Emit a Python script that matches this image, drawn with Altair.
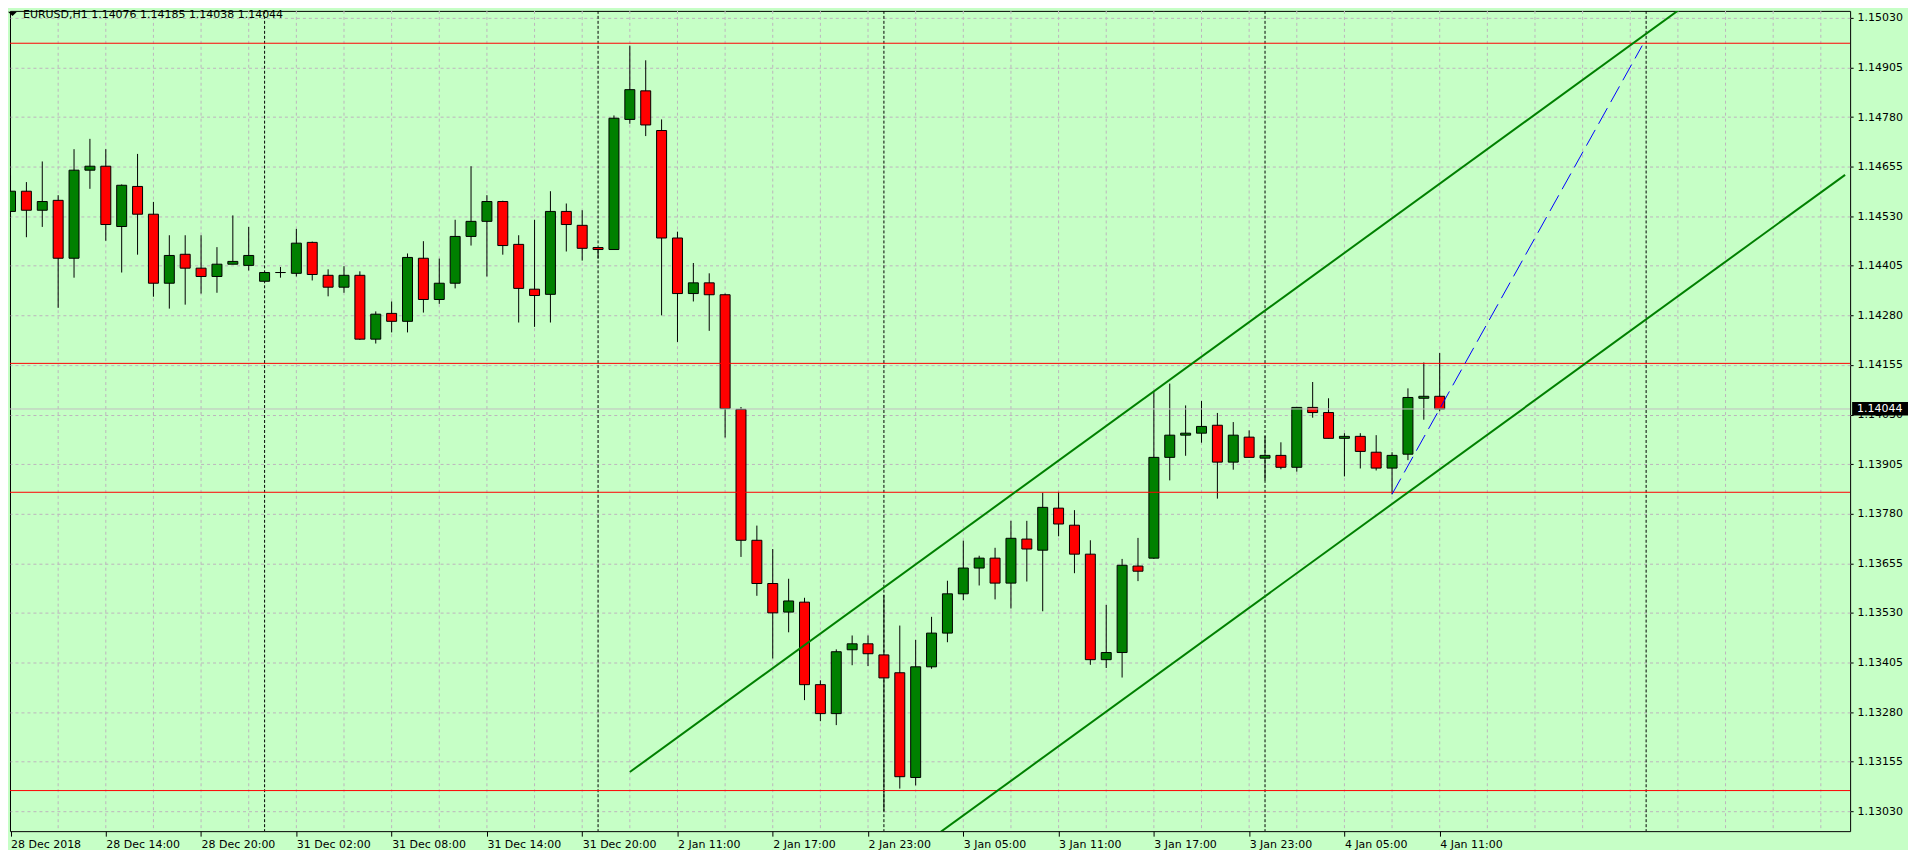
import json
import altair as alt
import pandas as pd

# ---- candle data (EURUSD H1), bar index 0 = 28 Dec 2018 08:00 ----
OPEN = [1.14542, 1.14593, 1.14545, 1.14570, 1.14424, 1.14646, 1.14656, 1.14504, 1.14605, 1.14535,
        1.14361, 1.14434, 1.14399, 1.14378, 1.14409, 1.14406, 1.14366, 1.14388, 1.14386, 1.14464,
        1.14381, 1.14351, 1.14381, 1.14220, 1.14285, 1.14265, 1.14424, 1.14320, 1.14361, 1.14479,
        1.14517, 1.14567, 1.14459, 1.14346, 1.14333, 1.14542, 1.14507, 1.14451, 1.14446, 1.14774,
        1.14846, 1.14746, 1.14475, 1.14335, 1.14362, 1.14332, 1.14043, 1.13713, 1.13604, 1.13532,
        1.13557, 1.13349, 1.13276, 1.13437, 1.13452, 1.13424, 1.13379, 1.13115, 1.13394, 1.13479,
        1.13578, 1.13643, 1.13668, 1.13605, 1.13716, 1.13688, 1.13794, 1.13751, 1.13678, 1.13412,
        1.13430, 1.13648, 1.13668, 1.13922, 1.13978, 1.13983, 1.14003, 1.13910, 1.13973, 1.13920,
        1.13927, 1.13897, 1.14048, 1.14035, 1.13970, 1.13975, 1.13935, 1.13895, 1.13930, 1.14071,
        1.14076]
HIGH = [1.14633, 1.14616, 1.14668, 1.14583, 1.14699, 1.14725, 1.14699, 1.14610, 1.14687, 1.14566,
        1.14482, 1.14482, 1.14482, 1.14452, 1.14532, 1.14503, 1.14390, 1.14402, 1.14498, 1.14466,
        1.14396, 1.14404, 1.14391, 1.14290, 1.14315, 1.14436, 1.14467, 1.14423, 1.14521, 1.14656,
        1.14583, 1.14569, 1.14482, 1.14521, 1.14593, 1.14562, 1.14545, 1.14452, 1.14784, 1.14960,
        1.14923, 1.14774, 1.14491, 1.14412, 1.14386, 1.14335, 1.14049, 1.13750, 1.13691, 1.13616,
        1.13568, 1.13360, 1.13438, 1.13473, 1.13473, 1.13575, 1.13498, 1.13462, 1.13520, 1.13611,
        1.13712, 1.13674, 1.13694, 1.13762, 1.13762, 1.13833, 1.13835, 1.13789, 1.13713, 1.13550,
        1.13666, 1.13719, 1.14088, 1.14108, 1.14053, 1.14064, 1.14034, 1.14011, 1.13990, 1.13976,
        1.13960, 1.14048, 1.14112, 1.14071, 1.13983, 1.13983, 1.13978, 1.13935, 1.14096, 1.14161,
        1.14185]
LOW = [1.14528, 1.14477, 1.14503, 1.14299, 1.14375, 1.14599, 1.14468, 1.14388, 1.14433, 1.14327,
       1.14297, 1.14307, 1.14335, 1.14337, 1.14409, 1.14393, 1.14364, 1.14375, 1.14378, 1.14368,
       1.14328, 1.14337, 1.14218, 1.14209, 1.14237, 1.14237, 1.14287, 1.14309, 1.14348, 1.14456,
       1.14378, 1.14433, 1.14262, 1.14251, 1.14262, 1.14441, 1.14418, 1.14423, 1.14446, 1.14763,
       1.14732, 1.14280, 1.14213, 1.14315, 1.14241, 1.13972, 1.13671, 1.13573, 1.13415, 1.13481,
       1.13310, 1.13257, 1.13247, 1.13398, 1.13396, 1.13030, 1.13087, 1.13095, 1.13389, 1.13456,
       1.13562, 1.13599, 1.13564, 1.13541, 1.13609, 1.13534, 1.13723, 1.13630, 1.13399, 1.13391,
       1.13367, 1.13610, 1.13666, 1.13864, 1.13926, 1.13959, 1.13818, 1.13891, 1.13922, 1.13864,
       1.13892, 1.13886, 1.14022, 1.13970, 1.13874, 1.13894, 1.13889, 1.13829, 1.13915, 1.14017,
       1.14038]
CLOSE = [1.14593, 1.14545, 1.14567, 1.14424, 1.14646, 1.14656, 1.14509, 1.14608, 1.14535, 1.14361,
         1.14431, 1.14399, 1.14378, 1.14409, 1.14416, 1.14431, 1.14388, 1.14388, 1.14462, 1.14383,
         1.14351, 1.14381, 1.14220, 1.14283, 1.14265, 1.14426, 1.14320, 1.14361, 1.14479, 1.14517,
         1.14567, 1.14456, 1.14348, 1.14330, 1.14542, 1.14509, 1.14449, 1.14446, 1.14777, 1.14849,
         1.14760, 1.14475, 1.14335, 1.14362, 1.14332, 1.14045, 1.13713, 1.13604, 1.13530, 1.13560,
         1.13349, 1.13276, 1.13432, 1.13452, 1.13427, 1.13366, 1.13117, 1.13394, 1.13479, 1.13578,
         1.13643, 1.13668, 1.13605, 1.13718, 1.13691, 1.13796, 1.13754, 1.13678, 1.13412, 1.13430,
         1.13650, 1.13635, 1.13922, 1.13978, 1.13983, 1.14000, 1.13910, 1.13978, 1.13922, 1.13927,
         1.13897, 1.14048, 1.14035, 1.13970, 1.13975, 1.13937, 1.13895, 1.13927, 1.14073, 1.14076,
         1.14044]

# ---- axis ticks ----
X_TICK_INDEX = [0, 6, 12, 18, 24, 30, 36, 42, 48, 54, 60, 66, 72, 78, 84, 90]
X_TICK_LABELS = ["28 Dec 2018", "28 Dec 14:00", "28 Dec 20:00", "31 Dec 02:00", "31 Dec 08:00",
                 "31 Dec 14:00", "31 Dec 20:00", "2 Jan 11:00", "2 Jan 17:00", "2 Jan 23:00",
                 "3 Jan 05:00", "3 Jan 11:00", "3 Jan 17:00", "3 Jan 23:00", "4 Jan 05:00",
                 "4 Jan 11:00"]
Y_TICKS = [1.13030, 1.13155, 1.13280, 1.13405, 1.13530, 1.13655, 1.13780, 1.13905, 1.14030,
           1.14155, 1.14280, 1.14405, 1.14530, 1.14655, 1.14780, 1.14905, 1.15030]
GRID_INDEX = list(range(3, 115, 3))
DAY_SEPARATORS = [16, 37, 55, 79, 103]

# ---- chart objects ----
LEVELS = [1.14966, 1.14159, 1.13834, 1.13082]
BID = [1.14044]
CHANNEL_NAME = ["upper", "upper", "lower", "lower"]
CHANNEL_INDEX = [39, 115.53, 39, 115.53]
CHANNEL_PRICE = [1.131287, 1.153544, 1.124086, 1.146343]
TREND_INDEX = [87, 102.75]
TREND_PRICE = [1.13829, 1.14960]

BG = "#C6FFC6"
GRID = "#BDB5BD"
FONT = "DejaVu Sans"

candles = pd.DataFrame({"i": list(range(len(OPEN))), "O": OPEN, "H": HIGH, "L": LOW, "C": CLOSE})
candles["dir"] = ["up" if c >= o else "down" for o, c in zip(OPEN, CLOSE)]

x_scale = alt.Scale(domain=[0.28125, 115.53125], nice=False, zero=False)
y_scale = alt.Scale(domain=[1.129797, 1.150476], nice=False, zero=False)

label_expr = f"{json.dumps(X_TICK_LABELS)}[indexof({json.dumps(X_TICK_INDEX)}, datum.value)]"
x_axis = alt.Axis(values=X_TICK_INDEX, labelExpr=label_expr, grid=False, domain=False,
                  ticks=True, tickSize=5, tickColor="black", tickWidth=1,
                  labelAlign="left", labelBaseline="top", labelPadding=2,
                  labelFont=FONT, labelFontSize=11, labelColor="black",
                  labelOverlap=False, labelFlush=False, labelBound=False, title=None)
y_axis = alt.Axis(orient="right", values=Y_TICKS, format=".5f", grid=True, gridColor=GRID,
                  gridDash=[3, 3], gridWidth=1, domain=False, tickSize=3, tickColor="black",
                  labelPadding=4, labelFont=FONT, labelFontSize=11, labelColor="black",
                  labelOverlap=False, labelBound=False, labelFlush=False, title=None)


def X(field):
    return alt.X(field, type="quantitative", scale=x_scale, axis=x_axis)


def Y(field):
    return alt.Y(field, type="quantitative", scale=y_scale, axis=y_axis)


grid_layer = alt.Chart(pd.DataFrame({"i": GRID_INDEX})).mark_rule(
    color=GRID, strokeDash=[3, 3], strokeWidth=1, clip=True).encode(x=X("i"))

sep_layer = alt.Chart(pd.DataFrame({"i": DAY_SEPARATORS})).mark_rule(
    color="black", strokeDash=[3, 2], strokeWidth=1, clip=True).encode(x=X("i"))

wick_layer = alt.Chart(candles).mark_rule(color="black", strokeWidth=1, clip=True).encode(
    x=X("i"), y=Y("L"), y2="H")

body_layer = alt.Chart(candles).mark_bar(size=10, stroke="black", strokeWidth=1, clip=True).encode(
    x=X("i"), y=Y("O"), y2="C",
    color=alt.Color("dir:N", scale=alt.Scale(domain=["up", "down"], range=["#008000", "#FF0000"]),
                    legend=None))

level_layer = alt.Chart(pd.DataFrame({"p": LEVELS})).mark_rule(
    color="#FF0000", strokeWidth=1, clip=True).encode(y=Y("p"))

bid_layer = alt.Chart(pd.DataFrame({"p": BID})).mark_rule(
    color="#C0C0C0", strokeWidth=1, clip=True).encode(y=Y("p"))

channel_layer = alt.Chart(pd.DataFrame({"name": CHANNEL_NAME, "i": CHANNEL_INDEX, "p": CHANNEL_PRICE})
                          ).mark_line(color="#008000", strokeWidth=2, clip=True).encode(
    x=X("i"), y=Y("p"), detail="name:N")

trend_layer = alt.Chart(pd.DataFrame({"i": TREND_INDEX, "p": TREND_PRICE})).mark_line(
    color="#0000FF", strokeWidth=1, strokeDash=[18, 7], clip=True).encode(x=X("i"), y=Y("p"))

title_text = "EURUSD,H1  " + " ".join(f"{v:.5f}" for v in (OPEN[-1], HIGH[-1], LOW[-1], CLOSE[-1]))
title_layer = alt.Chart(pd.DataFrame({"t": [title_text]})).mark_text(
    align="left", baseline="middle", font=FONT, fontSize=11, color="black").encode(
    x=alt.value(13), y=alt.value(4), text="t:N")

tri_layer = alt.Chart(pd.DataFrame({"t": ["menu"]})).mark_point(
    shape="M-1,-0.5L1,-0.5L0,0.5Z", size=81, filled=True, color="black", strokeWidth=0,
    opacity=1).encode(x=alt.value(2.5), y=alt.value(3))

bid_box = alt.Chart(pd.DataFrame({"p": BID})).mark_rect(
    color="black", yOffset=-7, y2Offset=6.5).encode(
    x=alt.value(1846), x2=alt.value(1902), y=Y("p"), y2="p")

bid_label = alt.Chart(pd.DataFrame({"p": BID})).mark_text(
    align="left", baseline="middle", font=FONT, fontSize=11, color="white").encode(
    x=alt.value(1851), y=Y("p"), text=alt.Text("p:Q", format=".5f"))

chart = alt.layer(
    grid_layer, sep_layer, wick_layer, body_layer, level_layer, bid_layer,
    channel_layer, trend_layer, title_layer, tri_layer, bid_box, bid_label
).properties(
    width=1844, height=822, padding=0, background=BG
).configure_view(stroke="black", strokeWidth=1, fill=BG)

chart.save("out.html", embed_options={"renderer": "svg", "actions": False})
